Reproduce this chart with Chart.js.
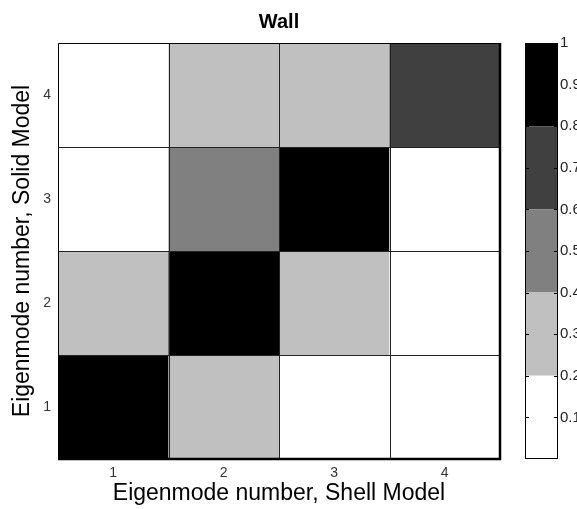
<!DOCTYPE html>
<html>
<head>
<meta charset="utf-8">
<script src="https://cdn.jsdelivr.net/npm/chart.js@4/dist/chart.umd.min.js"></script>
<style>
  html, body { margin: 0; padding: 0; background: #fff; }
  #wrap { position: relative; width: 577px; height: 509px; }
  #wrap canvas { position: absolute; left: 0; top: 0; }
</style>
</head>
<body>
<div id="wrap">
  <canvas id="mac" width="577" height="509"></canvas>
  <canvas id="bar" width="577" height="509"></canvas>
</div>
<script>
// Shell-model mode numbers along x, solid-model mode numbers along y
const shellModes = ['1', '2', '3', '4'];
const solidModes = [1, 2, 3, 4];

// MAC values, one array per solid-model mode (columns = shell modes 1..4)
const macSolid1 = [0.97, 0.31, 0.08, 0.03];
const macSolid2 = [0.28, 0.95, 0.33, 0.10];
const macSolid3 = [0.12, 0.52, 0.96, 0.15];
const macSolid4 = [0.05, 0.27, 0.36, 0.74];
const macRows = [macSolid1, macSolid2, macSolid3, macSolid4];

// Colour levels of the colorbar
const levelEdges = [0, 0.2, 0.4, 0.6, 0.8, 1];
const levelColors = ['#ffffff', '#c0c0c0', '#808080', '#404040', '#000000'];
const colorbarTicks = [0.1, 0.2, 0.3, 0.4, 0.5, 0.6, 0.7, 0.8, 0.9, 1];

const FONT = "'Liberation Sans', Arial, sans-serif";
Chart.defaults.font.family = FONT;
Chart.defaults.color = '#222';

function levelColor(v) {
  for (let i = 0; i < levelColors.length; i++) {
    if (v <= levelEdges[i + 1]) return levelColors[i];
  }
  return levelColors[levelColors.length - 1];
}

// one floating-bar dataset per solid mode row
const cellSets = solidModes.map((r, k) => ({
  data: shellModes.map(() => [r - 0.5, r + 0.5]),
  backgroundColor: macRows[k].map(levelColor),
  borderWidth: 0,
  inflateAmount: 0,
  grouped: false,
  barPercentage: 1,
  categoryPercentage: 1
}));

// cell edges, plot frame and title
const framePlugin = {
  id: 'frame',
  afterDatasetsDraw(chart) {
    const { ctx, chartArea: a, scales: { x, y } } = chart;
    ctx.save();
    ctx.strokeStyle = '#222';
    ctx.lineWidth = 1;
    ctx.beginPath();
    for (let i = 0; i < shellModes.length - 1; i++) {
      const px = Math.round((x.getPixelForValue(i) + x.getPixelForValue(i + 1)) / 2) + 0.5;
      ctx.moveTo(px, a.top); ctx.lineTo(px, a.bottom);
    }
    for (let i = 0; i < solidModes.length - 1; i++) {
      const py = Math.round(y.getPixelForValue(solidModes[i] + 0.5)) + 0.5;
      ctx.moveTo(a.left, py); ctx.lineTo(a.right, py);
    }
    ctx.stroke();
    ctx.strokeStyle = '#000';
    ctx.beginPath();
    ctx.moveTo(a.left + 0.5, a.bottom); ctx.lineTo(a.left + 0.5, a.top + 0.5); ctx.lineTo(a.right, a.top + 0.5);
    ctx.stroke();
    ctx.lineWidth = 2.5;
    ctx.beginPath();
    ctx.moveTo(a.right, a.top); ctx.lineTo(a.right, a.bottom); ctx.lineTo(a.left, a.bottom);
    ctx.stroke();
    ctx.fillStyle = '#000';
    ctx.font = "bold 20px " + FONT;
    ctx.textAlign = 'center';
    ctx.textBaseline = 'middle';
    ctx.fillText('Wall', (a.left + a.right) / 2, 22);
    ctx.restore();
  }
};

new Chart(document.getElementById('mac'), {
  type: 'bar',
  data: { labels: shellModes, datasets: cellSets },
  options: {
    responsive: false,
    animation: false,
    layout: { padding: { top: 43, right: 77, left: 0, bottom: 0 } },
    plugins: { legend: { display: false }, tooltip: { enabled: false } },
    scales: {
      x: {
        grid: { display: false, drawTicks: false },
        border: { display: false },
        ticks: { padding: 6, font: { size: 14 }, color: '#333' },
        title: { display: true, text: 'Eigenmode number, Shell Model', font: { size: 23 }, color: '#000', padding: { top: 0, bottom: 2 } },
        afterFit(s) { s.height = 50; }
      },
      y: {
        min: 0.5, max: 4.5,
        grid: { display: false, drawTicks: false },
        border: { display: false },
        afterBuildTicks(s) { s.ticks = solidModes.map(v => ({ value: v })); },
        ticks: { padding: 7, font: { size: 14 }, color: '#333' },
        title: { display: true, text: 'Eigenmode number, Solid Model', font: { size: 23 }, color: '#000', padding: { top: 9, bottom: 0 } },
        afterFit(s) { s.width = 58; }
      }
    }
  },
  plugins: [framePlugin]
});

// colorbar
const levelSets = levelColors.map((c, i) => ({
  data: [[levelEdges[i], levelEdges[i + 1]]],
  backgroundColor: c,
  borderWidth: 0,
  inflateAmount: 0,
  grouped: false,
  barPercentage: 1,
  categoryPercentage: 1
}));

const barFramePlugin = {
  id: 'barFrame',
  afterDatasetsDraw(chart) {
    const { ctx, chartArea: a, scales: { y } } = chart;
    ctx.save();
    ctx.strokeStyle = '#000';
    ctx.lineWidth = 1;
    ctx.beginPath();
    colorbarTicks.forEach(v => {
      const py = Math.round(y.getPixelForValue(v)) + 0.5;
      ctx.moveTo(a.left, py); ctx.lineTo(a.left + 4, py);
      ctx.moveTo(a.right - 4, py); ctx.lineTo(a.right, py);
    });
    ctx.stroke();
    ctx.strokeRect(Math.round(a.left) + 0.5, Math.round(a.top) + 0.5, Math.round(a.right - a.left) - 1, Math.round(a.bottom - a.top) - 1);
    ctx.restore();
  }
};

new Chart(document.getElementById('bar'), {
  type: 'bar',
  data: { labels: ['MAC'], datasets: levelSets },
  options: {
    responsive: false,
    animation: false,
    layout: { padding: { top: 43, right: 0, left: 525, bottom: 50 } },
    plugins: { legend: { display: false }, tooltip: { enabled: false } },
    scales: {
      x: { display: false },
      y: {
        position: 'right',
        min: 0, max: 1,
        grid: { display: false, drawTicks: false },
        border: { display: false },
        afterBuildTicks(s) { s.ticks = colorbarTicks.map(v => ({ value: v })); },
        ticks: {
          padding: 2, autoSkip: false, font: { size: 15 }, color: '#222',
          callback: v => String(+Number(v).toFixed(1))
        },
        afterFit(s) { s.width = 19; }
      }
    }
  },
  plugins: [barFramePlugin]
});
</script>
</body>
</html>
